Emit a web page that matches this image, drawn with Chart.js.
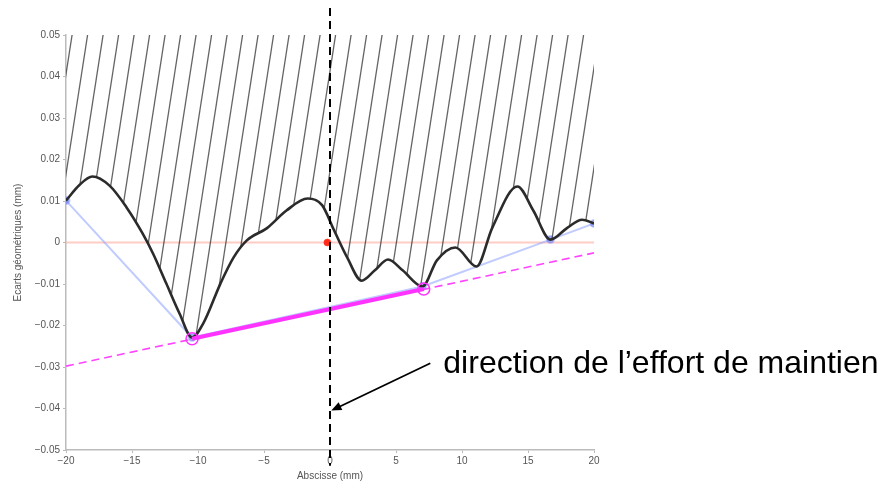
<!DOCTYPE html>
<html>
<head>
<meta charset="utf-8">
<script src="https://cdn.jsdelivr.net/npm/chart.js@4"></script>
<style>
  body { margin: 0; background: #fff; }
</style>
</head>
<body>
<canvas id="chart" width="884" height="482"></canvas>
<script>
// profile of the surface (abscissa in mm, deviation in mm)
const curveX = [-20, -19, -18, -16.7, -15.4, -14.2, -13.4, -12.4, -11.4, -10.45, -9.6, -8.3, -7.3, -6.3, -4.8, -3.3, -1.7, -0.6, 0.3, 1.3, 2.4, 3.4, 4.4, 5.5, 7.0, 8.1, 9.5, 11.1, 12.3, 14.2, 15.4, 16.7, 18.0, 19.1, 20];
const curveY = [0.0101, 0.0138, 0.0159, 0.0137, 0.0084, 0.0022, -0.0027, -0.0099, -0.0171, -0.0229, -0.0195, -0.0099, -0.0036, 0.0005, 0.0034, 0.0077, 0.0106, 0.0090, 0.0030, -0.0036, -0.0092, -0.0067, -0.0041, -0.0067, -0.0106, -0.0043, -0.0012, -0.0058, 0.0036, 0.0135, 0.0077, 0.0007, 0.0036, 0.0055, 0.0046];

// lower convex hull
const hullX = [-20, -10.45, 7.0, 16.7, 20];
const hullY = [0.0101, -0.0229, -0.0106, 0.0007, 0.0046];

// contact points and support line
const contactX = [-10.45, 7.1];
const contactY = [-0.0232, -0.0112];
const supportX = [-20, 20];
const supportY = [-0.0298, -0.0025];

const zeroX = [-20, 20];
const zeroY = [0, 0];
const originX = [-0.2];
const originY = [0];

// direction line (goes a bit past the axes) and arrow
const dirX = [0, 0];
const dirY = [0.0565, -0.0538];
const arrowX = [7.6, 0.1];
const arrowY = [-0.0291, -0.0405];
const label = 'direction de l\u2019effort de maintien';

const xTicks = [-20, -15, -10, -5, 0, 5, 10, 15, 20];

function pts(xs, ys) {
  return xs.map((x, i) => ({ x: x, y: ys[i] }));
}

function hatch() {
  const c = document.createElement('canvas');
  c.width = 31;
  c.height = 100;
  const g = c.getContext('2d');
  g.strokeStyle = 'rgba(40,40,40,0.72)';
  g.lineWidth = 1.3;
  for (let x0 = -31; x0 <= 31; x0 += 15.5) {
    g.beginPath();
    g.moveTo(x0, 100);
    g.lineTo(x0 + 15.5, 0);
    g.stroke();
  }
  return g.createPattern(c, 'repeat');
}

const arrowPlugin = {
  id: 'arrow',
  afterDatasetsDraw(chart) {
    const c = chart.ctx;
    const sx = chart.scales.x, sy = chart.scales.y;
    const x1 = sx.getPixelForValue(arrowX[0]), y1 = sy.getPixelForValue(arrowY[0]);
    const x2 = sx.getPixelForValue(arrowX[1]), y2 = sy.getPixelForValue(arrowY[1]);
    const a = Math.atan2(y2 - y1, x2 - x1);
    c.save();
    c.strokeStyle = '#000';
    c.fillStyle = '#000';
    c.lineWidth = 1.8;
    c.beginPath();
    c.moveTo(x1, y1);
    c.lineTo(x2 - 6 * Math.cos(a), y2 - 6 * Math.sin(a));
    c.stroke();
    c.beginPath();
    c.moveTo(x2, y2);
    c.lineTo(x2 - 11 * Math.cos(a - 0.4), y2 - 11 * Math.sin(a - 0.4));
    c.lineTo(x2 - 11 * Math.cos(a + 0.4), y2 - 11 * Math.sin(a + 0.4));
    c.closePath();
    c.fill();
    c.font = '32px "Liberation Sans", Arial, sans-serif';
    c.textBaseline = 'alphabetic';
    c.fillText(label, x1 + 13, y1 + 10);
    c.restore();
  }
};

const ctx = document.getElementById('chart');

new Chart(ctx, {
  type: 'line',
  data: {
    datasets: [
      {
        data: pts(dirX, dirY),
        borderColor: '#000',
        borderWidth: 2,
        borderDash: [8, 5],
        pointRadius: 0,
        clip: false,
        order: 0
      },
      {
        data: pts(contactX, contactY),
        borderColor: '#ff33ff',
        borderWidth: 4,
        pointRadius: 6,
        pointBorderWidth: 1.5,
        pointBackgroundColor: 'rgba(0,0,0,0)',
        pointBorderColor: '#ff33ff',
        order: 1
      },
      {
        data: pts(supportX, supportY),
        borderColor: '#ff44ff',
        borderWidth: 1.6,
        borderDash: [8, 5],
        pointRadius: 0,
        order: 2
      },
      {
        data: pts(curveX, curveY),
        borderColor: '#2b2b2b',
        borderWidth: 2.6,
        cubicInterpolationMode: 'monotone',
        pointRadius: 0,
        fill: 'end',
        backgroundColor: hatch(),
        order: 3
      },
      {
        data: pts(hullX, hullY),
        borderColor: 'rgba(140,160,255,0.55)',
        borderWidth: 2,
        pointRadius: 3.5,
        pointBackgroundColor: 'rgba(90,110,240,0.55)',
        pointBorderColor: 'rgba(120,140,255,0.4)',
        pointBorderWidth: 2,
        order: 4
      },
      {
        data: pts(originX, originY),
        showLine: false,
        pointRadius: 3.5,
        pointBackgroundColor: '#ff2a1a',
        pointBorderColor: 'rgba(255,60,40,0.6)',
        order: 4
      },
      {
        data: pts(zeroX, zeroY),
        borderColor: 'rgba(255,170,160,0.6)',
        borderWidth: 2,
        pointRadius: 0,
        order: 5
      }
    ]
  },
  options: {
    responsive: false,
    animation: false,
    devicePixelRatio: 1,
    layout: { padding: { top: 35, right: 290, left: 0, bottom: 0 } },
    plugins: {
      legend: { display: false },
      tooltip: { enabled: false }
    },
    scales: {
      x: {
        type: 'linear',
        min: -20,
        max: 20,
        afterFit: s => { s.height = 32; },
        afterBuildTicks: s => { s.ticks = xTicks.map(v => ({ value: v })); },
        grid: { drawOnChartArea: false, tickLength: 3, color: '#bbb' },
        border: { color: '#bbb', width: 1.5 },
        ticks: {
          color: '#555',
          font: { size: 10, family: 'Liberation Sans' },
          padding: 2,
          maxRotation: 0,
          callback: v => (v < 0 ? '\u2212' + (-v) : '' + v)
        },
        title: {
          display: true,
          text: 'Abscisse (mm)',
          color: '#555',
          font: { size: 10, family: 'Liberation Sans' },
          padding: { top: 0, bottom: 0 }
        }
      },
      y: {
        min: -0.05,
        max: 0.05,
        afterFit: s => { s.width = 66; },
        grid: { drawOnChartArea: false, tickLength: 3, color: '#bbb' },
        border: { color: '#bbb', width: 1.5 },
        ticks: {
          stepSize: 0.01,
          color: '#555',
          font: { size: 10, family: 'Liberation Sans' },
          padding: 3,
          callback: v => (Math.abs(v) < 1e-9 ? '0' : (v < 0 ? '\u2212' : '') + Math.abs(v).toFixed(2))
        },
        title: {
          display: true,
          text: 'Ecarts g\u00e9om\u00e9triques (mm)',
          color: '#555',
          font: { size: 10, family: 'Liberation Sans' },
          padding: { top: 12, bottom: 0 }
        }
      }
    }
  },
  plugins: [arrowPlugin]
});
</script>
</body>
</html>
